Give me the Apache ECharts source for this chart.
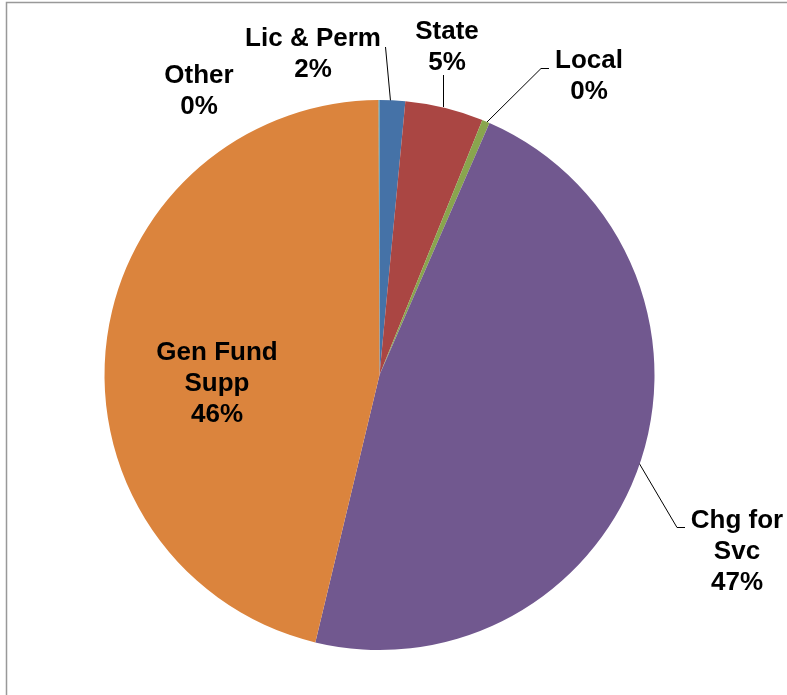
<!DOCTYPE html>
<html>
<head>
<meta charset="utf-8">
<script src="https://cdn.jsdelivr.net/npm/echarts@6/dist/echarts.min.js"></script>
<style>
html,body{margin:0;padding:0;background:#fff;}
#chart{width:787px;height:695px;}
</style>
</head>
<body>
<div id="chart"></div>
<script>
// Data
var categories = ['Lic & Perm', 'State', 'Local', 'Chg for\nSvc', 'Gen Fund\nSupp', 'Other'];
var values = [1.5, 4.6, 0.45, 47.2, 46.2, 0.05];

// Styling (kept separate from data)
var colors = ['#4572A7', '#AA4643', '#89A54E', '#71588F', '#DB843D', '#4198AF'];
var labelCenters = [[313, 54], [447, 47], [589, 76], [737, 552], [217, 384], [199, 91]];
var leaderLines = [
  [[390.5, 101], [388, 74], [385.5, 47]],
  [[443.5, 107], [443.5, 90], [443.5, 75]],
  [[487, 122], [541, 68.5], [549, 68.5]],
  [[639, 463], [677, 527.5], [685, 527.5]],
  null,
  null
];

var chart = echarts.init(document.getElementById('chart'), null, {renderer: 'canvas'});
var data = categories.map(function (c, i) {
  var item = {name: c, value: values[i], itemStyle: {color: colors[i]}};
  if (i === 4) {
    item.label = {position: 'inside'};
    item.labelLine = {show: false};
  }
  if (i === 5) {
    item.labelLine = {show: false};
  }
  return item;
});

chart.setOption({
  animation: false,
  graphic: [{
    type: 'rect',
    shape: {x: 6.5, y: 2.5, width: 900, height: 900},
    style: {fill: 'none', stroke: '#999999', lineWidth: 1.5},
    silent: true,
    z: -1
  }],
  series: [{
    type: 'pie',
    center: [379.5, 375],
    radius: 275,
    startAngle: 90,
    clockwise: true,
    avoidLabelOverlap: false,
    itemStyle: {borderWidth: 0},
    label: {
      show: true,
      position: 'outside',
      formatter: function (p) { return p.name + '\n' + Math.round(p.percent) + '%'; },
      fontFamily: 'Liberation Sans, Arial, sans-serif',
      fontWeight: 'bold',
      fontSize: 26,
      lineHeight: 31,
      color: '#000',
      align: 'center'
    },
    labelLine: {
      show: true,
      lineStyle: {color: '#000', width: 1}
    },
    labelLayout: function (params) {
      var i = params.dataIndex;
      var r = {
        x: labelCenters[i][0],
        y: labelCenters[i][1],
        align: 'center',
        verticalAlign: 'middle'
      };
      if (leaderLines[i]) r.labelLinePoints = leaderLines[i];
      return r;
    },
    data: data
  }]
});
</script>
</body>
</html>
